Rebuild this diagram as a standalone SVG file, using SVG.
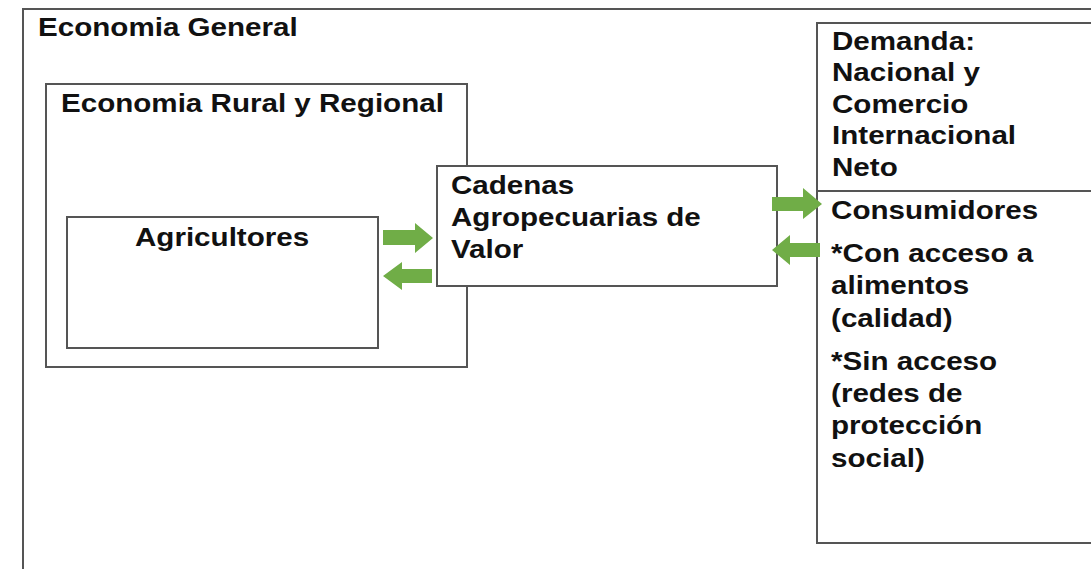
<svg xmlns="http://www.w3.org/2000/svg" width="1091" height="569" viewBox="0 0 1091 569">
<style>
.box{fill:#fff;stroke:#555;stroke-width:2}
.t{font-family:"Liberation Sans",Arial,sans-serif;font-weight:bold;font-size:25px;fill:#111}
.arr{fill:#70AD47}
</style>
<rect width="1091" height="569" fill="#fff"/>
<g id="economia-general">
<rect class="box" x="23" y="9" width="1100" height="600"/>
<text class="t" transform="scale(1.184,1)" x="32.1" y="36">Economia General</text>
</g>
<g id="economia-rural">
<rect class="box" x="46" y="84" width="421" height="283"/>
<text class="t" transform="scale(1.184,1)" x="51.5" y="112">Economia Rural y Regional</text>
</g>
<g id="agricultores">
<rect class="box" x="67" y="217" width="311" height="131"/>
<text class="t" transform="scale(1.184,1)" x="114" y="246">Agricultores</text>
</g>
<g id="cadenas">
<rect class="box" x="437" y="166" width="340" height="120"/>
<text class="t" transform="scale(1.184,1)" x="380.9" y="194">Cadenas</text>
<text class="t" transform="scale(1.184,1)" x="380.9" y="226">Agropecuarias de</text>
<text class="t" transform="scale(1.184,1)" x="380.9" y="258">Valor</text>
</g>
<g id="demanda">
<rect class="box" x="817" y="23" width="300" height="168"/>
<text class="t" transform="scale(1.184,1)" x="702.7" y="50">Demanda:</text>
<text class="t" transform="scale(1.184,1)" x="702.7" y="81">Nacional y</text>
<text class="t" transform="scale(1.184,1)" x="702.7" y="113">Comercio</text>
<text class="t" transform="scale(1.184,1)" x="702.7" y="144">Internacional</text>
<text class="t" transform="scale(1.184,1)" x="702.7" y="176">Neto</text>
</g>
<g id="consumidores">
<rect class="box" x="817" y="191" width="300" height="352"/>
<text class="t" transform="scale(1.184,1)" x="701.9" y="219">Consumidores</text>
<text class="t" transform="scale(1.184,1)" x="701.9" y="262">*Con acceso a</text>
<text class="t" transform="scale(1.184,1)" x="701.9" y="294">alimentos</text>
<text class="t" transform="scale(1.184,1)" x="701.9" y="327">(calidad)</text>
<text class="t" transform="scale(1.184,1)" x="701.9" y="370">*Sin acceso</text>
<text class="t" transform="scale(1.184,1)" x="701.9" y="402">(redes de</text>
<text class="t" transform="scale(1.184,1)" x="701.9" y="434">protección</text>
<text class="t" transform="scale(1.184,1)" x="701.9" y="467">social)</text>
</g>
<g id="connectors">
<polygon class="arr" points="383,230 415,230 415,223 433,238 415,253 415,245 383,245"/>
<polygon class="arr" points="432,269 402,269 402,262 383,276 402,290 402,283 432,283"/>
<polygon class="arr" points="772,197 803,197 803,188 822,204 803,219 803,211 772,211"/>
<polygon class="arr" points="820,243 790,243 790,235 772,250 790,265 790,257 820,257"/>
</g>
</svg>
